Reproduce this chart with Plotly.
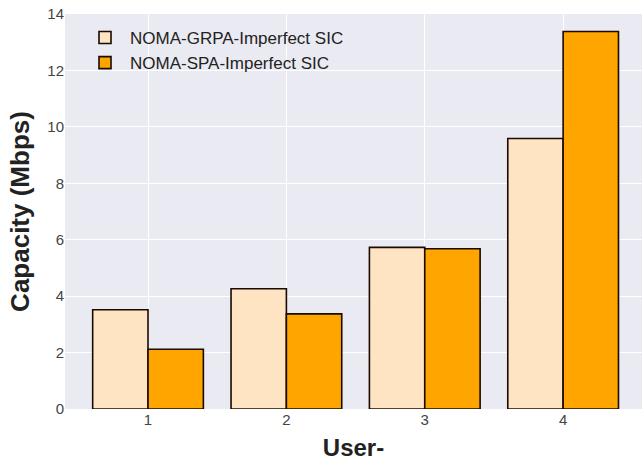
import plotly.graph_objects as go

users = [1, 2, 3, 4]
tick_labels = ["1", "2", "3", "4"]
grpa = [3.52, 4.26, 5.73, 9.59]
spa = [2.12, 3.37, 5.68, 13.38]
series_names = ["NOMA-GRPA-Imperfect SIC", "NOMA-SPA-Imperfect SIC"]
y_ticks = [0, 2, 4, 6, 8, 10, 12, 14]

fig = go.Figure()
fig.add_trace(go.Bar(x=users, y=grpa, name=series_names[0], offset=-0.4, width=0.4,
                     marker=dict(color="#FFE4C4", line=dict(color="#1a0a00", width=1.6))))
fig.add_trace(go.Bar(x=users, y=spa, name=series_names[1], offset=0.0, width=0.4,
                     marker=dict(color="#FFA500", line=dict(color="#1a0a00", width=1.6))))

fig.update_layout(
    width=642, height=465,
    margin=dict(l=65, r=0, t=14, b=56, autoexpand=False),
    paper_bgcolor="white", plot_bgcolor="#EAEAF2",
    font=dict(family="Liberation Sans, Arial", size=15, color="#444444"),
    barmode="overlay",
    showlegend=True,
    legend=dict(x=0.026, y=0.985, xanchor="left", yanchor="top",
                bgcolor="rgba(0,0,0,0)", font=dict(size=17, color="#222222"),
                tracegroupgap=2, itemwidth=40),
    xaxis=dict(range=[0.4, 4.57], tickvals=users, ticktext=tick_labels, automargin=False,
               showgrid=True, gridcolor="white", gridwidth=1.2, zeroline=False,
               title=dict(text="<b>User-</b>", font=dict(size=24, color="#222222"), standoff=12),
               ticks="", tickfont=dict(size=15, color="#444444")),
    yaxis=dict(range=[0, 14], tickvals=y_ticks, showgrid=True, gridcolor="white", gridwidth=1.2,
               zeroline=False, automargin=False,
               title=dict(text="<b>Capacity (Mbps)</b>", font=dict(size=26, color="#222222"), standoff=10),
               ticks="", tickfont=dict(size=15, color="#444444")),
)

fig.write_html("out.html", config={"displayModeBar": False},
               post_script="document.body.style.margin='0px';")
